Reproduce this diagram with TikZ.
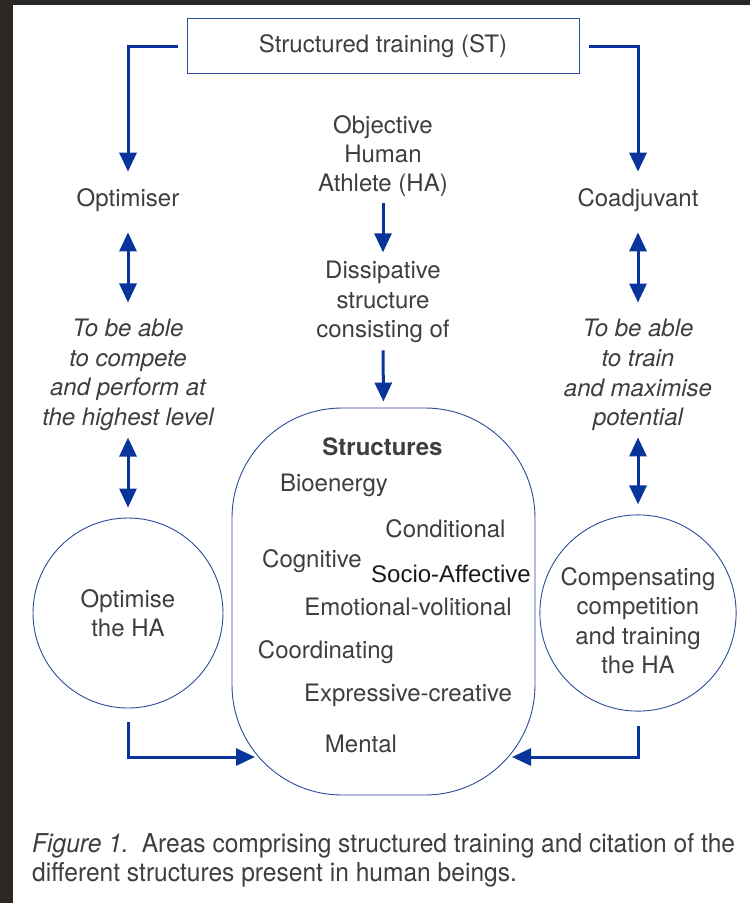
\documentclass[tikz,border=0pt]{standalone}
\usepackage{fontspec}
\setmainfont{TeX Gyre Heros}
\newfontfamily\arialfont{Liberation Sans}
\newfontfamily\capfont[FakeStretch=0.945]{TeX Gyre Heros}
\usetikzlibrary{positioning, arrows.meta}
\definecolor{arrowblue}{RGB}{8,52,155}
\definecolor{lineblue}{RGB}{45,75,155}
\definecolor{textgray}{RGB}{62,62,62}
\definecolor{framedark}{RGB}{43,39,37}
\tikzstyle{txt} = [inner sep=0pt, align=center, text=textgray, font=\fontsize{24}{29.3}\selectfont]
\tikzstyle{note} = [txt, font=\fontsize{24}{29.7}\selectfont\itshape]
\tikzstyle{topbox} = [txt, rectangle, draw=lineblue, line width=1pt, minimum width=392pt, minimum height=55pt]
\tikzstyle{bubble} = [txt, circle, draw=lineblue, line width=0.9pt, minimum size=190pt]
\tikzstyle{pill} = [rectangle, rounded corners=110pt, draw=lineblue, line width=0.9pt, minimum width=303pt, minimum height=387pt]
\tikzstyle{arrow} = [line width=3pt, draw=arrowblue, -{Triangle[width=17pt,length=19pt]}]
\tikzstyle{dblarrow} = [line width=3pt, draw=arrowblue, {Triangle[width=17pt,length=19pt]}-{Triangle[width=17pt,length=19pt]}]

\begin{document}
\begin{tikzpicture}[x=1pt, y=-1pt]
    \useasboundingbox (0,0) rectangle (750,903);
    \fill[framedark] (0,0) rectangle (13,903);
    \fill[framedark] (0,0) rectangle (750,5);

    % top and the three columns
    \node[topbox]  (st)      at (383,46)  {Structured training (ST)};
    \node[txt]     (obj)     at (383,156) {Objective\\Human\\Athlete (HA)};
    \node[txt]     (diss)    at (383,302) {Dissipative\\structure\\consisting of};
    \node[txt]     (optim)   at (128,200) {Optimiser};
    \node[txt]     (coad)    at (638,200) {Coadjuvant};
    \node[note]    (compete) at (128,375) {To be able\\to compete\\and perform at\\the highest level};
    \node[note]    (train)   at (638,375) {To be able\\to train\\and maximise\\potential};
    \node[bubble]  (optHA)   at (128,613) {Optimise\\the HA};
    \node[bubble]  (compHA)  at (638,613) {\rule{0pt}{33.5pt}Compensating\\competition\\and training\\the HA};

    % structures
    \node[pill] (struct) at (383.5,601.5) {};
    \node[txt, font=\fontsize{24}{29}\selectfont\bfseries] (head) at (382.5,447) {Structures};
    \node[txt] (bio)    at (334,485)   {Bioenergy};
    \node[txt] (cond)   at (445.5,529) {Conditional};
    \node[txt] (cogn)   at (312,561)   {Cognitive};
    \node[txt, text=black!90, font=\arialfont\fontsize{24}{29}\selectfont] (socio) at (451,574) {Socio-Affective};
    \node[txt] (emo)    at (408,607)   {Emotional-volitional};
    \node[txt] (coord)  at (326,652)   {Coordinating};
    \node[txt] (expr)   at (408,695)   {Expressive-creative};
    \node[txt] (mental) at (361,744)   {Mental};

    \coordinate (inL) at (255,757);
    \coordinate (inR) at (512,757);

    \draw[arrow, shorten <=9pt, shorten >=16.6pt] (st.west) -| (optim.north);
    \draw[arrow, shorten <=9pt, shorten >=16.6pt] (st.east) -| (coad.north);
    \draw[dblarrow, shorten <=20.6pt, shorten >=16.4pt] (optim.south) -- (compete.north);
    \draw[dblarrow, shorten <=20.6pt, shorten >=16.4pt] (coad.south) -- (train.north);
    \draw[dblarrow, shorten <=6.4pt, shorten >=10pt] (compete.south) -- (optHA.north);
    \draw[dblarrow, shorten <=6.4pt, shorten >=10pt] (train.south) -- (compHA.north);
    \draw[arrow, shorten <=6pt, shorten >=8.8pt] (obj.south) -- (diss.north);
    \draw[arrow, shorten <=7.4pt, shorten >=6pt] (diss.south) -- (struct.north);
    \draw[arrow, shorten <=14pt] (optHA.south) |- (inL);
    \draw[arrow, shorten <=14pt] (compHA.south) |- (inR);

    % caption
    \node[anchor=base west, inner sep=0pt, align=left, text=textgray, font=\capfont\fontsize{26}{29}\selectfont] (caption) at (32,881)
        {{\itshape Figure 1.}\enspace Areas comprising structured training and citation of the\\different structures present in human beings.};
\end{tikzpicture}
\end{document}
